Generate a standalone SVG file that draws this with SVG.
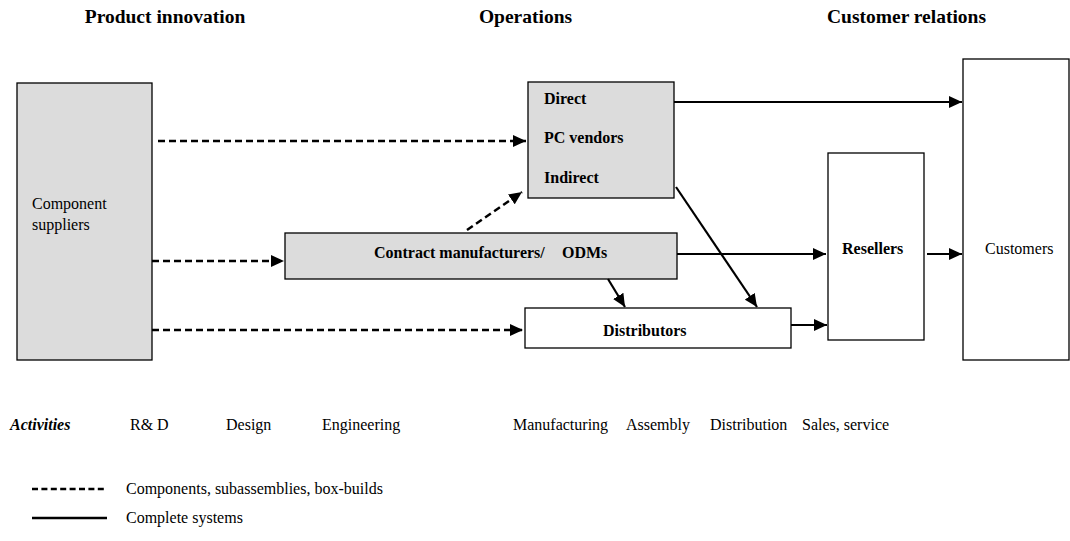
<svg xmlns="http://www.w3.org/2000/svg" width="1070" height="541" viewBox="0 0 1070 541">
<defs>
<style>
.t{font-family:"Liberation Serif","Times New Roman",serif;font-size:16px;fill:#000}
.b{font-weight:bold}
.h{font-family:"Liberation Serif","Times New Roman",serif;font-size:19.5px;font-weight:bold;text-anchor:middle}
.box{stroke:#000;stroke-width:1.3}
.g{fill:#dcdcdc}
.w{fill:#fff}
.sol{stroke:#000;stroke-width:2.2;fill:none}
.das{stroke:#000;stroke-width:2.5;fill:none;stroke-dasharray:7 4}
</style>
<marker id="ah" markerUnits="userSpaceOnUse" markerWidth="14" markerHeight="12" refX="13" refY="6" orient="auto">
<path d="M0,0 L13,6 L0,12 Z" fill="#000"/>
</marker>
</defs>
<rect width="1070" height="541" fill="#fff"/>

<g id="headers">
<text class="h" x="165" y="23">Product innovation</text>
<text class="h" x="525.5" y="23">Operations</text>
<text class="h" x="906.5" y="23">Customer relations</text>
</g>

<g id="component-suppliers">
<rect class="box g" x="17" y="83" width="135" height="277"/>
<text class="t" x="32" y="209">Component</text>
<text class="t" x="32" y="230">suppliers</text>
</g>

<g id="pc-vendors">
<rect class="box g" x="528" y="82" width="146" height="116"/>
<text class="t b" x="544" y="104">Direct</text>
<text class="t b" x="544" y="143">PC vendors</text>
<text class="t b" x="544" y="183">Indirect</text>
</g>

<g id="contract-manufacturers">
<rect class="box g" x="285" y="233" width="392" height="46"/>
<text class="t b" x="374" y="258">Contract manufacturers/</text>
<text class="t b" x="562" y="258">ODMs</text>
</g>

<g id="distributors">
<rect class="box w" x="525" y="308" width="266" height="40"/>
<text class="t b" x="603" y="336">Distributors</text>
</g>

<g id="resellers">
<rect class="box w" x="828" y="153" width="96" height="187"/>
<text class="t b" x="842" y="254">Resellers</text>
</g>

<g id="customers">
<rect class="box w" x="963" y="59" width="106" height="301"/>
<text class="t" x="985" y="254">Customers</text>
</g>

<g id="connectors">
<line class="das" x1="158" y1="141" x2="526" y2="141" marker-end="url(#ah)"/>
<line class="das" x1="152" y1="261" x2="284" y2="261" marker-end="url(#ah)"/>
<line class="das" x1="152" y1="330" x2="523" y2="330" marker-end="url(#ah)"/>
<line class="das" x1="467" y1="230" x2="522" y2="192" marker-end="url(#ah)"/>
<line class="sol" x1="674" y1="102" x2="962" y2="102" marker-end="url(#ah)"/>
<line class="sol" x1="677" y1="254" x2="826" y2="254" marker-end="url(#ah)"/>
<line class="sol" x1="927" y1="254" x2="962" y2="254" marker-end="url(#ah)"/>
<line class="sol" x1="791" y1="325" x2="827" y2="325" marker-end="url(#ah)"/>
<line class="sol" x1="676" y1="187" x2="757" y2="307" marker-end="url(#ah)"/>
<line class="sol" x1="608" y1="279" x2="625" y2="307" marker-end="url(#ah)"/>
</g>

<g id="activities">
<text class="t b" x="10" y="430" font-style="italic">Activities</text>
<text class="t" x="130" y="430">R&amp; D</text>
<text class="t" x="226" y="430">Design</text>
<text class="t" x="322" y="430">Engineering</text>
<text class="t" x="513" y="430">Manufacturing</text>
<text class="t" x="626" y="430">Assembly</text>
<text class="t" x="710" y="430">Distribution</text>
<text class="t" x="802" y="430">Sales, service</text>
</g>

<g id="legend">
<line x1="32" y1="489" x2="107" y2="489" stroke="#000" stroke-width="2.5" stroke-dasharray="6 3.4"/>
<text class="t" x="126" y="494">Components, subassemblies, box-builds</text>
<line x1="32" y1="518" x2="107" y2="518" stroke="#000" stroke-width="2.5"/>
<text class="t" x="126" y="523">Complete systems</text>
</g>
</svg>
